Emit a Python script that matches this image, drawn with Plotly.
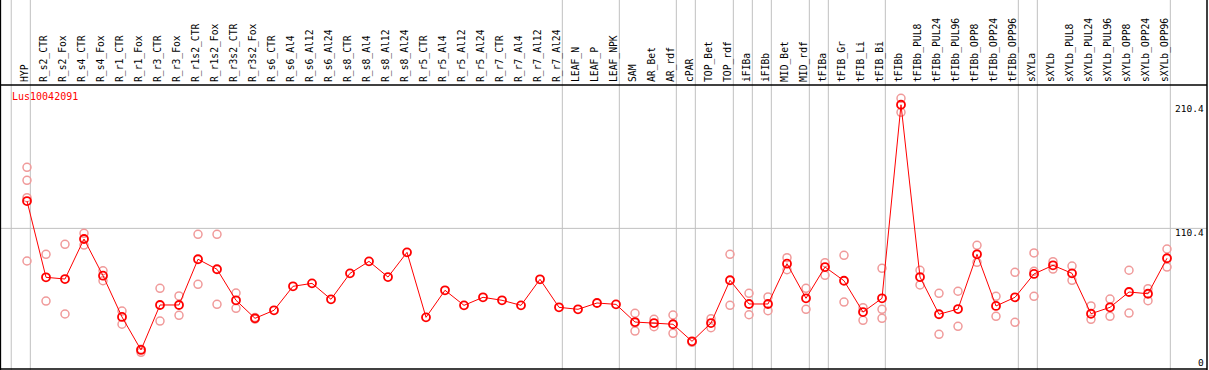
import plotly.graph_objects as go

categories = ["HYP", "R_s2_CTR", "R_s2_Fox", "R_s4_CTR", "R_s4_Fox", "R_r1_CTR", "R_r1_Fox",
              "R_r3_CTR", "R_r3_Fox", "R_r1s2_CTR", "R_r1s2_Fox", "R_r3s2_CTR", "R_r3s2_Fox",
              "R_s6_CTR", "R_s6_Al4", "R_s6_Al12", "R_s6_Al24", "R_s8_CTR", "R_s8_Al4",
              "R_s8_Al12", "R_s8_Al24", "R_r5_CTR", "R_r5_Al4", "R_r5_Al12", "R_r5_Al24",
              "R_r7_CTR", "R_r7_Al4", "R_r7_Al12", "R_r7_Al24", "LEAF_N", "LEAF_P", "LEAF_NPK",
              "SAM", "AR_Bet", "AR_rdf", "cPAR", "TOP_Bet", "TOP_rdf", "iFIBa", "iFIBb",
              "MID_Bet", "MID_rdf", "tFIBa", "tFIB_Gr", "tFIB_Li", "tFIB_Bi", "tFIBb",
              "tFIBb_PUL8", "tFIBb_PUL24", "tFIBb_PUL96", "tFIBb_OPP8", "tFIBb_OPP24",
              "tFIBb_OPP96", "sXYLa", "sXYLb", "sXYLb_PUL8", "sXYLb_PUL24", "sXYLb_PUL96",
              "sXYLb_OPP8", "sXYLb_OPP24", "sXYLb_OPP96"]

mean_values = [132.5, 70.8, 69.4, 101.8, 72.1, 38.7, 12.0, 48.4, 48.4, 85.4, 77.3, 52.2, 37.6,
               44.1, 63.5, 65.9, 53.0, 74.0, 83.7, 71.0, 91.0, 38.4, 60.3, 48.1, 54.6,
               52.2, 48.1, 69.2, 46.5, 44.9, 50.0, 48.9,
               34.6, 33.8, 32.8, 19.0, 33.8, 68.4, 49.2, 49.2, 81.8, 53.8, 79.1, 68.0, 42.7, 53.8,
               210.4, 71.0, 40.9, 45.1, 89.4, 47.6, 54.6, 73.5, 80.5, 74.0, 41.3, 46.5, 58.9, 57.5, 86.2]

replicates = [
    [159.8, 149.3, 135.2, 84.0], [89.4, 51.6], [97.5, 41.1], [106.4, 96.9], [76.1, 68.0],
    [43.5, 32.8], [10.1, 12.5], [61.9, 35.4], [55.7, 40.0], [105.6, 65.1], [105.6, 48.9],
    [58.1, 45.7], [37.0, 38.2],
    [], [], [], [], [], [], [], [], [], [], [], [], [], [], [], [], [], [], [],
    [41.7, 34.0, 27.3], [36.8, 30.8], [40.3, 25.5], [18.2], [37.3, 30.0], [89.4, 48.1],
    [57.8, 40.5], [54.9, 43.8], [86.7, 76.9], [61.9, 44.9], [82.6, 72.4], [88.6, 50.8],
    [46.2, 36.0], [78.1, 44.9, 37.6], [215.6, 204.3], [76.5, 64.6], [57.8, 24.7],
    [59.5, 31.1], [96.7, 82.9], [55.4, 39.2], [74.8, 34.4], [90.5, 75.7, 55.4], [83.4, 77.5],
    [79.9, 68.4], [47.6, 36.8], [53.2, 39.2], [76.5, 41.9], [61.6, 51.9], [93.7, 79.1],
]

gene_label = "Lus10042091"
ytick_values = [0, 110.4, 210.4]
ytick_labels = ["0", "110.4", "210.4"]
gridline_value = 110.4
# group separators: drawn just after these category indices
separator_after = [0, 28, 31, 34, 35, 37, 38, 39, 41, 42, 45, 52, 53, 60]

xi = list(range(len(categories)))
rep_x, rep_y = [], []
for i, reps in enumerate(replicates):
    for v in reps:
        rep_x.append(i)
        rep_y.append(v)

RED = "#ff0000"
PINK = "#f09a9a"
GRAY = "#c0c0c0"
MONO = "DejaVu Sans Mono"

fig = go.Figure()
fig.add_trace(go.Scatter(x=rep_x, y=rep_y, mode="markers",
                         marker=dict(symbol="circle-open", size=8, color=PINK,
                                     line=dict(width=1.5, color=PINK)),
                         hoverinfo="skip"))
fig.add_trace(go.Scatter(x=xi, y=mean_values, mode="lines+markers",
                         line=dict(color=RED, width=1),
                         marker=dict(symbol="circle-open", size=8, color=RED,
                                     line=dict(width=1.8, color=RED))))

H_PLOT = 284.0
top_paper = 1 + 85 / H_PLOT
bot_paper = -1 / H_PLOT

shapes = []
# first separator left of HYP
sep_positions = [-0.83] + [s + 0.175 for s in separator_after]
for sx in sep_positions:
    shapes.append(dict(type="line", xref="x", yref="paper", x0=sx, x1=sx,
                       y0=bot_paper, y1=top_paper, line=dict(color=GRAY, width=1), layer="below"))
shapes.append(dict(type="line", xref="paper", yref="y", x0=0, x1=1, y0=gridline_value,
                   y1=gridline_value, line=dict(color=GRAY, width=1), layer="below"))
# borders
shapes.append(dict(type="line", xref="paper", yref="paper", x0=-0.0005, x1=-0.0005,
                   y0=bot_paper, y1=top_paper, line=dict(color="black", width=1.5)))
shapes.append(dict(type="line", xref="paper", yref="paper", x0=1, x1=1,
                   y0=bot_paper, y1=top_paper, line=dict(color="black", width=1.5)))
shapes.append(dict(type="line", xref="paper", yref="paper", x0=0, x1=1, y0=1, y1=1,
                   line=dict(color="black", width=1.5)))
shapes.append(dict(type="line", xref="paper", yref="paper", x0=0, x1=1, y0=0, y1=0,
                   line=dict(color="black", width=1.5)))

annotations = [dict(x=0.0072, y=0.96, xref="paper", yref="paper", text=gene_label,
                    showarrow=False, xanchor="left", yanchor="middle",
                    font=dict(family=MONO, size=10, color=RED))]
for v, t in zip(ytick_values, ytick_labels):
    annotations.append(dict(x=0.999, y=v, xref="paper", yref="y", text=t, showarrow=False,
                            xanchor="right", yanchor="middle",
                            yshift=2 if v == 0 else -4,
                            font=dict(family=MONO, size=9.5, color="black")))

fig.update_layout(
    width=1209, height=370,
    margin=dict(l=1, r=2, t=85, b=1, pad=0, autoexpand=False),
    plot_bgcolor="white", paper_bgcolor="white",
    showlegend=False,
    shapes=shapes, annotations=annotations,
    xaxis=dict(range=[(1 - 27) / 19, (1207 - 27) / 19], side="top", automargin=False,
               tickmode="array", tickvals=xi, ticktext=categories, tickangle=-90,
               tickfont=dict(family=MONO, size=9.7, color="black"),
               ticks="", showgrid=False, zeroline=False, showline=False,
               ticklabelstandoff=2, ticklabelshift=-2),
    yaxis=dict(range=[-3.4, 226.4], showticklabels=False, ticks="", showgrid=False,
               zeroline=False, showline=False, automargin=False),
)

fig.write_html("out.html", config={"displayModeBar": False},
               post_script="document.body.style.margin='0';document.body.style.overflow='hidden';")
